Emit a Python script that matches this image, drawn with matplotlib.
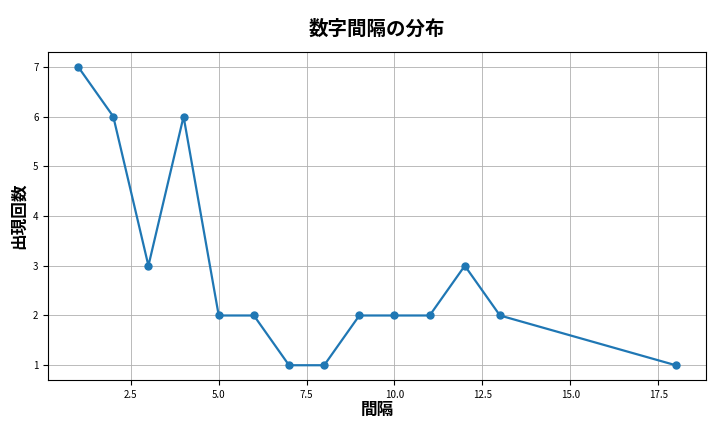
import matplotlib
matplotlib.use("Agg")
import matplotlib.pyplot as plt

plt.rcParams['font.family'] = ['Noto Sans CJK JP', 'DejaVu Sans']

# gap length vs. how often it appears
gaps = [1, 2, 3, 4, 5, 6, 7, 8, 9, 10, 11, 12, 13, 18]
counts = [7, 6, 3, 6, 2, 2, 1, 1, 2, 2, 2, 3, 2, 1]

fig, ax = plt.subplots(figsize=(7.2, 4.32), dpi=100)
ax.plot(gaps, counts, marker="o", color="#1f77b4", linewidth=1.6, markersize=5)
ax.set_title("数字間隔の分布", fontsize=14, fontweight="bold", pad=12)
ax.set_xlabel("間隔", fontsize=12, fontweight="bold", labelpad=1)
ax.set_ylabel("出現回数", fontsize=12, fontweight="bold")
ax.tick_params(labelsize=7)
ax.grid(True, color="#b0b0b0", linewidth=0.6)
fig.subplots_adjust(left=0.067, right=0.98, top=0.88, bottom=0.12)
plt.savefig("out.png", dpi=100)
